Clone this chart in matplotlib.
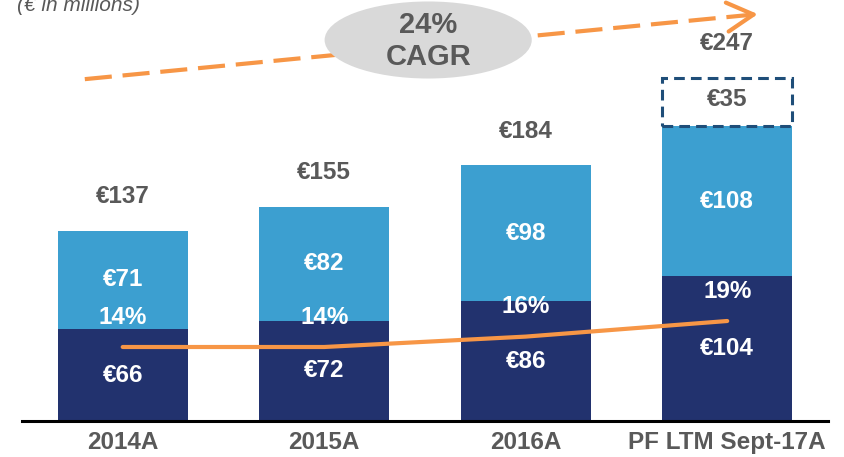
import matplotlib
matplotlib.use("Agg")
import matplotlib.pyplot as plt
from matplotlib.patches import Ellipse

plt.rcParams['font.family'] = ['Liberation Sans', 'DejaVu Sans']

# data (EUR millions)
periods = ['2014A', '2015A', '2016A', 'PF LTM Sept-17A']
base = [66, 72, 86, 104]
upper = [71, 82, 98, 108]
pro_forma = [0, 0, 0, 35]
totals = [137, 155, 184, 247]
margin = [14, 14, 16, 19]

NAVY = '#22326E'
BLUE = '#3C9FD0'
ORANGE = '#F79646'
GREY_TXT = '#595959'
BOX = '#1F4E79'

fig = plt.figure(figsize=(8.44, 4.57), dpi=100)
ax = fig.add_axes([0.026, 36 / 457, 0.955, 1 - 36 / 457])

x = list(range(len(periods)))
w = 0.645

ax.bar(x, base, w, color=NAVY, zorder=2)
ax.bar(x, upper, w, bottom=base, color=BLUE, zorder=2)
tops = [b + u for b, u in zip(base, upper)]

# pro forma add-on as an empty dashed box on the last bar
for i, pf in enumerate(pro_forma):
    if pf:
        ax.bar(i, pf, w, bottom=tops[i], fill=False, edgecolor=BOX,
               linewidth=2.2, linestyle=(0, (3.5, 2)), zorder=3)

lab = dict(ha='center', va='center', fontsize=17.5, fontweight='bold')
for i in x:
    ax.text(i, base[i] / 2, '€%d' % base[i], color='white', zorder=5, **lab)
    ax.text(i, base[i] + upper[i] / 2, '€%d' % upper[i], color='white', zorder=5, **lab)
    if pro_forma[i]:
        ax.text(i, tops[i] + pro_forma[i] / 2 + 2, '€%d' % pro_forma[i],
                color=GREY_TXT, zorder=5, **lab)
    ax.annotate('€%d' % totals[i], (i, tops[i] + pro_forma[i]), xytext=(0, 24.5),
                textcoords='offset points', color=GREY_TXT, **lab)

ax.set_xlim(-0.5, 3.5)
ax.set_ylim(0, 421 / 1.39)
ax.set_yticks([])
ax.set_xticks(x)
ax.set_xticklabels(periods, fontsize=17.5, fontweight='bold', color=GREY_TXT)
ax.tick_params(axis='x', length=0, pad=7)
for s in ['top', 'left', 'right']:
    ax.spines[s].set_visible(False)
ax.spines['bottom'].set_linewidth(2.2)
ax.spines['bottom'].set_color('black')
ax.spines['bottom'].set_zorder(6)
ax.patch.set_visible(False)

# margin line on its own scale
ax2 = ax.twinx()
ax2.set_ylim(14 - 74 / 5.2, 14 + 347 / 5.2)
ax2.axis('off')
ax2.plot(x, margin, color=ORANGE, lw=3, solid_capstyle='round', zorder=4)
for i in x:
    ax2.annotate('%d%%' % margin[i], (i, margin[i]), xytext=(0, 21.6),
                 textcoords='offset points', color='white', **lab)

# growth arrow and CAGR bubble
x0, y0 = 0.078, 0.812
slope = 0.185
tip_x = 0.913
tip_y = y0 + slope * (tip_x - x0)
x1 = 0.900
y1 = y0 + slope * (x1 - x0)
ax2.plot([x0, x1], [y0, y1], transform=ax2.transAxes, color=ORANGE, lw=3,
         dashes=(6.5, 2.6), clip_on=False, zorder=6)
ax2.annotate('', xy=(tip_x, tip_y), xytext=(x1, y1),
             xycoords='axes fraction', textcoords='axes fraction',
             arrowprops=dict(arrowstyle='->,head_length=1.0,head_width=0.55',
                             color=ORANGE, lw=3, mutation_scale=19,
                             shrinkA=0, shrinkB=0), annotation_clip=False)
ax2.add_patch(Ellipse((0.504, 0.905), 0.257, 0.183, transform=ax2.transAxes,
                      facecolor='#D9D9D9', edgecolor='none', zorder=7, clip_on=False))
ax2.text(0.504, 0.903, '24%\nCAGR', transform=ax2.transAxes, ha='center',
         va='center', fontsize=21, fontweight='bold', color=GREY_TXT,
         linespacing=1.2, zorder=8)

fig.text(0.020, 1 - 11 / 457, '(€ in millions)', fontsize=15, style='italic',
         color=GREY_TXT, va='baseline')

fig.savefig('out.png', dpi=100)
